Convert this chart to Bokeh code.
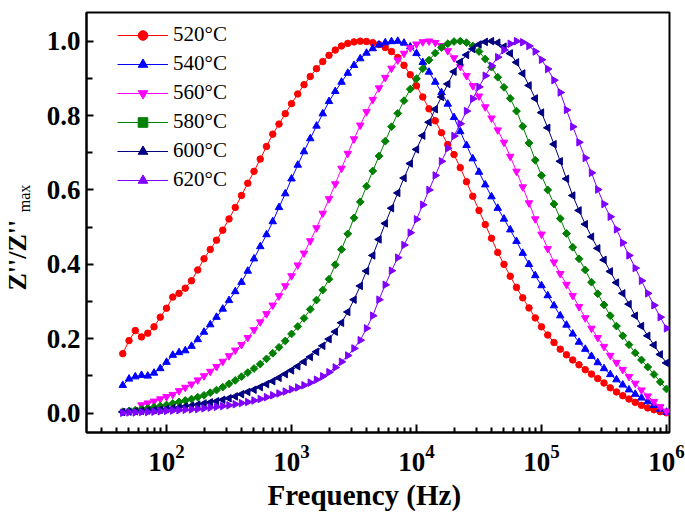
import math
from bokeh.plotting import figure
from bokeh.models import Range1d, FixedTicker, PrintfTickFormatter, Legend, LegendItem, Title
from bokeh.embed import file_html
from bokeh.resources import INLINE

# ---------------- data ----------------
log_freq = [1.65, 1.70, 1.75, 1.80, 1.85, 1.90, 1.95, 2.00, 2.05, 2.10, 2.15, 2.20, 2.25, 2.30, 2.35,
            2.40, 2.45, 2.50, 2.55, 2.60, 2.65, 2.70, 2.75, 2.80, 2.85, 2.90, 2.95, 3.00, 3.05, 3.10,
            3.15, 3.20, 3.25, 3.30, 3.35, 3.40, 3.45, 3.50, 3.55, 3.60, 3.65, 3.70, 3.75, 3.80, 3.85,
            3.90, 3.95, 4.00, 4.05, 4.10, 4.15, 4.20, 4.25, 4.30, 4.35, 4.40, 4.45, 4.50, 4.55, 4.60,
            4.65, 4.70, 4.75, 4.80, 4.85, 4.90, 4.95, 5.00, 5.05, 5.10, 5.15, 5.20, 5.25, 5.30, 5.35,
            5.40, 5.45, 5.50, 5.55, 5.60, 5.65, 5.70, 5.75, 5.80, 5.85, 5.90, 5.95, 6.00]
freq = [10 ** v for v in log_freq]
freq_560 = freq[3:]   # the 560 °C series starts a little later

z_520 = [0.160, 0.195, 0.222, 0.205, 0.215, 0.232, 0.258, 0.282, 0.312, 0.322, 0.336, 0.356, 0.385, 0.415, 0.440,
         0.465, 0.492, 0.522, 0.553, 0.585, 0.618, 0.650, 0.683, 0.717, 0.750, 0.777, 0.805, 0.832, 0.858, 0.883,
         0.905, 0.926, 0.945, 0.962, 0.976, 0.987, 0.994, 0.998, 1.000, 0.999, 0.996, 0.991, 0.983, 0.972, 0.956,
         0.935, 0.910, 0.880, 0.850, 0.818, 0.786, 0.754, 0.722, 0.695, 0.660, 0.622, 0.583, 0.545, 0.507, 0.470,
         0.432, 0.400, 0.368, 0.338, 0.310, 0.283, 0.256, 0.232, 0.210, 0.190, 0.172, 0.157, 0.143, 0.130, 0.117,
         0.105, 0.093, 0.081, 0.068, 0.057, 0.047, 0.038, 0.029, 0.021, 0.014, 0.009, 0.004, 0.001]

z_540 = [0.075, 0.092, 0.098, 0.102, 0.100, 0.108, 0.120, 0.137, 0.156, 0.163, 0.168, 0.180, 0.198, 0.218, 0.238,
         0.258, 0.280, 0.303, 0.327, 0.352, 0.382, 0.415, 0.448, 0.480, 0.515, 0.553, 0.590, 0.630, 0.667, 0.703,
         0.738, 0.772, 0.805, 0.838, 0.865, 0.890, 0.914, 0.935, 0.953, 0.968, 0.980, 0.990, 0.996, 0.999, 1.000,
         0.995, 0.985, 0.967, 0.943, 0.917, 0.890, 0.862, 0.831, 0.795, 0.757, 0.720, 0.684, 0.648, 0.614, 0.582,
         0.551, 0.522, 0.493, 0.462, 0.430, 0.400, 0.370, 0.343, 0.316, 0.289, 0.262, 0.237, 0.213, 0.191, 0.172,
         0.153, 0.136, 0.120, 0.104, 0.090, 0.076, 0.063, 0.051, 0.041, 0.031, 0.021, 0.011, 0.003]

z_560 = [0.022, 0.027, 0.032, 0.038, 0.044, 0.050, 0.060, 0.069, 0.078, 0.089, 0.100, 0.112,
         0.125, 0.139, 0.154, 0.169, 0.184, 0.203, 0.224, 0.245, 0.267, 0.290, 0.315, 0.342, 0.369, 0.398,
         0.430, 0.463, 0.498, 0.537, 0.576, 0.616, 0.658, 0.698, 0.737, 0.774, 0.810, 0.843, 0.874, 0.902,
         0.927, 0.949, 0.967, 0.982, 0.992, 0.998, 1.000, 0.996, 0.988, 0.974, 0.955, 0.932, 0.907, 0.880,
         0.852, 0.823, 0.793, 0.761, 0.728, 0.690, 0.650, 0.608, 0.565, 0.522, 0.481, 0.442, 0.406, 0.375,
         0.346, 0.316, 0.286, 0.256, 0.228, 0.203, 0.179, 0.155, 0.136, 0.117, 0.098, 0.080, 0.062, 0.046,
         0.031, 0.017, 0.005]

z_580 = [0.004, 0.006, 0.008, 0.011, 0.013, 0.016, 0.019, 0.022, 0.026, 0.030, 0.034, 0.038, 0.043, 0.048, 0.055,
         0.062, 0.070, 0.079, 0.088, 0.098, 0.109, 0.120, 0.132, 0.146, 0.161, 0.177, 0.194, 0.213, 0.233, 0.255,
         0.279, 0.304, 0.331, 0.360, 0.399, 0.440, 0.482, 0.525, 0.568, 0.610, 0.651, 0.691, 0.731, 0.770, 0.806,
         0.840, 0.871, 0.899, 0.926, 0.949, 0.968, 0.983, 0.993, 0.999, 1.000, 0.996, 0.987, 0.972, 0.952, 0.930,
         0.903, 0.876, 0.846, 0.812, 0.771, 0.726, 0.680, 0.639, 0.600, 0.562, 0.523, 0.483, 0.446, 0.415, 0.385,
         0.352, 0.321, 0.291, 0.262, 0.234, 0.208, 0.184, 0.162, 0.143, 0.124, 0.104, 0.084, 0.065]

z_600 = [0.003, 0.004, 0.005, 0.006, 0.007, 0.008, 0.009, 0.011, 0.013, 0.015, 0.018, 0.020, 0.023, 0.026, 0.029,
         0.032, 0.036, 0.040, 0.045, 0.051, 0.057, 0.063, 0.070, 0.078, 0.086, 0.095, 0.105, 0.115, 0.126, 0.138,
         0.151, 0.165, 0.181, 0.199, 0.219, 0.243, 0.272, 0.305, 0.342, 0.382, 0.424, 0.467, 0.510, 0.551, 0.592,
         0.632, 0.671, 0.709, 0.746, 0.782, 0.817, 0.850, 0.885, 0.918, 0.944, 0.963, 0.979, 0.991, 0.998, 1.000,
         0.996, 0.985, 0.967, 0.943, 0.913, 0.881, 0.846, 0.808, 0.767, 0.723, 0.677, 0.630, 0.585, 0.545, 0.508,
         0.474, 0.443, 0.412, 0.381, 0.351, 0.322, 0.293, 0.262, 0.234, 0.208, 0.183, 0.158, 0.135]

z_620 = [0.001, 0.002, 0.002, 0.003, 0.003, 0.004, 0.005, 0.006, 0.007, 0.008, 0.009, 0.010, 0.011, 0.013, 0.015,
         0.017, 0.019, 0.021, 0.024, 0.027, 0.030, 0.034, 0.038, 0.043, 0.048, 0.053, 0.058, 0.064, 0.069, 0.075,
         0.082, 0.090, 0.099, 0.110, 0.123, 0.138, 0.155, 0.174, 0.196, 0.228, 0.262, 0.305, 0.345, 0.383, 0.418,
         0.452, 0.485, 0.521, 0.560, 0.600, 0.639, 0.677, 0.712, 0.745, 0.778, 0.812, 0.845, 0.877, 0.907, 0.934,
         0.957, 0.976, 0.993, 1.000, 0.997, 0.987, 0.972, 0.950, 0.925, 0.895, 0.862, 0.815, 0.770, 0.728, 0.686,
         0.646, 0.601, 0.562, 0.528, 0.494, 0.458, 0.424, 0.390, 0.356, 0.322, 0.290, 0.258, 0.228]

labels = ["520°C", "540°C", "560°C", "580°C", "600°C", "620°C"]
x_tick_values = [1e2, 1e3, 1e4, 1e5, 1e6]
y_tick_values = [0.0, 0.2, 0.4, 0.6, 0.8, 1.0]

assert len(z_520) == len(freq) and len(z_540) == len(freq) and len(z_580) == len(freq)
assert len(z_600) == len(freq) and len(z_620) == len(freq) and len(z_560) == len(freq_560)

# ---------------- figure ----------------
p = figure(width=685, height=528, x_axis_type="log",
           x_range=Range1d(22.9, 1.057e6), y_range=Range1d(-0.052, 1.077),
           output_backend="svg", toolbar_location=None,
           min_border_left=86, min_border_right=16, min_border_top=12, min_border_bottom=96)
p.background_fill_color = "white"
p.border_fill_color = "white"
p.xgrid.visible = False
p.ygrid.visible = False
p.outline_line_color = "black"
p.outline_line_width = 2

series = [
    (labels[0], freq, z_520, "#FF0000", "circle", 0.0, 6.5),
    (labels[1], freq, z_540, "#0000FF", "triangle", 0.0, 7.5),
    (labels[2], freq_560, z_560, "#FF00FF", "inverted_triangle", 0.0, 7.5),
    (labels[3], freq, z_580, "#008000", "square", math.pi / 4, 5.5),
    (labels[4], freq, z_600, "#000080", "triangle", math.pi / 2, 7.5),
    (labels[5], freq, z_620, "#8000FF", "triangle", -math.pi / 2, 7.5),
]

items = []
for name, xs, ys, col, mk, ang, sz in series:
    rl = p.line(xs, ys, line_color=col, line_width=1)
    rs = p.scatter(xs, ys, marker=mk, angle=ang, size=sz, fill_color=col, line_color=col, line_width=1)
    items.append(LegendItem(label=name, renderers=[rl, rs]))

legend = Legend(items=items, location=(31, 240), padding=0, margin=0, spacing=4,
                glyph_width=51, glyph_height=24, label_height=24, label_standoff=5,
                label_text_font="Liberation Serif", label_text_font_size="21px",
                label_text_color="black", border_line_color=None,
                background_fill_alpha=0.0)
p.add_layout(legend)

# axes
p.xaxis.ticker = FixedTicker(ticks=x_tick_values,
                             minor_ticks=[30, 40, 50, 60, 70, 80, 90,
                                          200, 300, 400, 500, 600, 700, 800, 900,
                                          2e3, 3e3, 4e3, 5e3, 6e3, 7e3, 8e3, 9e3,
                                          2e4, 3e4, 4e4, 5e4, 6e4, 7e4, 8e4, 9e4,
                                          2e5, 3e5, 4e5, 5e5, 6e5, 7e5, 8e5, 9e5])
p.yaxis.ticker = FixedTicker(ticks=y_tick_values, minor_ticks=[0.1, 0.3, 0.5, 0.7, 0.9])
p.yaxis.formatter = PrintfTickFormatter(format="%.1f")

for ax in (p.xaxis, p.yaxis):
    ax.axis_line_width = 2
    ax.axis_line_color = "black"
    ax.major_tick_line_width = 2
    ax.minor_tick_line_width = 2
    ax.major_tick_line_color = "black"
    ax.minor_tick_line_color = "black"
    ax.major_tick_out = 0
    ax.minor_tick_out = 0
    ax.major_label_text_font = "Liberation Serif"
    ax.major_label_text_font_style = "bold"
    ax.major_label_text_font_size = "27px"
    ax.major_label_text_color = "black"

p.xaxis.major_tick_in = 8
p.xaxis.minor_tick_in = 5
p.xaxis.major_label_standoff = 12
p.yaxis.major_tick_in = 7
p.yaxis.minor_tick_in = 6
p.yaxis.major_label_standoff = 6

# subscript part of the y title: the y axis label (no-break spaces lift it above centre)
p.yaxis.axis_label = "\u00a0" * 12 + "max"
p.yaxis.axis_label_standoff = 11
p.yaxis.axis_label_text_font = "Liberation Serif"
p.yaxis.axis_label_text_font_style = "normal"
p.yaxis.axis_label_text_font_size = "16px"
p.yaxis.axis_label_text_color = "black"

# main parts of the axis titles as side-panel titles (real text)
p.add_layout(Title(text="Frequency (Hz)", align="left", offset=181, standoff=6,
                   text_font="Liberation Serif", text_font_style="bold", text_font_size="29px",
                   text_color="black"), "below")
p.add_layout(Title(text="Z''/Z''", align="left", offset=142, standoff=-38,
                   text_font="Liberation Serif", text_font_style="bold", text_font_size="26px",
                   text_color="black"), "left")

open("out.html", "w").write(file_html(p, INLINE))
